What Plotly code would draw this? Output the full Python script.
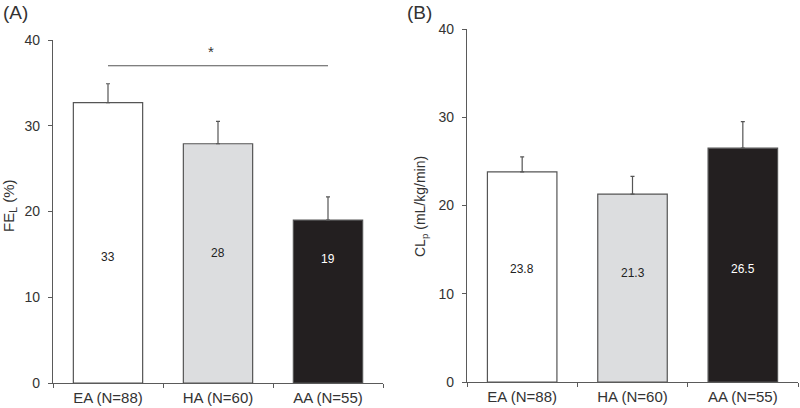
import plotly.graph_objects as go

# ---- data ----
categories = ["EA (N=88)", "HA (N=60)", "AA (N=55)"]
fe_values = [32.7, 27.9, 19.0]
fe_errors = [2.2, 2.6, 2.7]
fe_labels = ["33", "28", "19"]
cl_values = [23.8, 21.3, 26.5]
cl_errors = [1.7, 2.0, 3.0]
cl_labels = ["23.8", "21.3", "26.5"]
y_ticks = [0, 10, 20, 30, 40]
sig_y = 37.0

# ---- styles ----
bar_colors = ["#ffffff", "#dcdddf", "#231f20"]
label_colors = ["#222222", "#222222", "#ffffff"]
edge = "#555555"
axis_col = "#5a5a5a"
text_col = "#333333"
FONT = "Arial, Liberation Sans, sans-serif"

fe_label_y = [14.7, 15.2, 14.5]
cl_label_y = [12.8, 12.4, 12.8]

fig = go.Figure()


def add_bars(values, errors, xa, ya):
    fig.add_trace(go.Bar(
        x=categories, y=values, xaxis=xa, yaxis=ya,
        marker=dict(color=bar_colors, line=dict(color=edge, width=1.2)),
        error_y=dict(type="data", symmetric=False, array=errors,
                     arrayminus=[0] * len(errors), color=edge,
                     thickness=1.2, width=2),
        showlegend=False, hoverinfo="skip"))


add_bars(fe_values, fe_errors, "x", "y")
add_bars(cl_values, cl_errors, "x2", "y2")

# significance line in panel A
fig.add_trace(go.Scatter(
    x=[categories[0], categories[2]], y=[sig_y, sig_y], xaxis="x", yaxis="y",
    mode="lines", line=dict(color=edge, width=1.2),
    showlegend=False, hoverinfo="skip"))

annotations = []
for c, lab, ly, col in zip(categories, fe_labels, fe_label_y, label_colors):
    annotations.append(dict(x=c, y=ly, xref="x", yref="y", text=lab,
                            showarrow=False, font=dict(family=FONT, size=12, color=col)))
for c, lab, ly, col in zip(categories, cl_labels, cl_label_y, label_colors):
    annotations.append(dict(x=c, y=ly, xref="x2", yref="y2", text=lab,
                            showarrow=False, font=dict(family=FONT, size=12, color=col)))

annotations.append(dict(x=categories[1], y=sig_y, xref="x", yref="y", text="*",
                        showarrow=False, yanchor="bottom", yshift=4, xshift=-7,
                        font=dict(family=FONT, size=15, color=text_col)))

# panel letters
annotations.append(dict(x=1 / 800, y=1.0, xref="paper", yref="paper", text="(A)",
                        showarrow=False, xanchor="left", yanchor="top",
                        font=dict(family=FONT, size=19, color=text_col)))
annotations.append(dict(x=405 / 800, y=1.0, xref="paper", yref="paper", text="(B)",
                        showarrow=False, xanchor="left", yanchor="top",
                        font=dict(family=FONT, size=19, color=text_col)))

# axis titles
annotations.append(dict(x=9 / 800, y=1 - 206 / 408, xref="paper", yref="paper",
                        text="FE<sub>L</sub> (%)", textangle=-90, showarrow=False,
                        xanchor="center", yanchor="middle",
                        font=dict(family=FONT, size=15, color=text_col)))
annotations.append(dict(x=421 / 800, y=1 - 207 / 408, xref="paper", yref="paper",
                        text="CL<sub>p</sub> (mL/kg/min)", textangle=-90, showarrow=False,
                        xanchor="center", yanchor="middle",
                        font=dict(family=FONT, size=14, color=text_col)))

xcommon = dict(type="category", showline=True, linecolor=axis_col, linewidth=1.2,
               ticks="outside", tickson="boundaries", ticklen=4, tickcolor=axis_col,
               tickwidth=1, showgrid=False, zeroline=False, automargin=False,
               ticklabelstandoff=1,
               tickfont=dict(family=FONT, size=15, color=text_col))
ycommon = dict(range=[0, 40], tickvals=y_ticks, showline=True, linecolor=axis_col,
               linewidth=1.2, ticks="outside", ticklen=4, tickcolor=axis_col,
               tickwidth=1, showgrid=False, zeroline=False, automargin=False,
               ticklabelstandoff=5,
               tickfont=dict(family=FONT, size=14, color=text_col))

fig.update_layout(
    width=800, height=408,
    margin=dict(l=0, r=0, t=0, b=0),
    paper_bgcolor="white", plot_bgcolor="white",
    bargap=0.37,
    xaxis=dict(domain=[53 / 800, 383 / 800], anchor="y", **xcommon),
    yaxis=dict(domain=[(408 - 383) / 408, (408 - 40) / 408], anchor="x", **ycommon),
    xaxis2=dict(domain=[467 / 800, 798 / 800], anchor="y2", **xcommon),
    yaxis2=dict(domain=[(408 - 382) / 408, (408 - 29) / 408], anchor="x2", **ycommon),
    annotations=annotations,
)

fig.write_html("out.html", config={"displayModeBar": False},
               post_script="document.body.style.margin='0';document.body.style.overflow='hidden';")
